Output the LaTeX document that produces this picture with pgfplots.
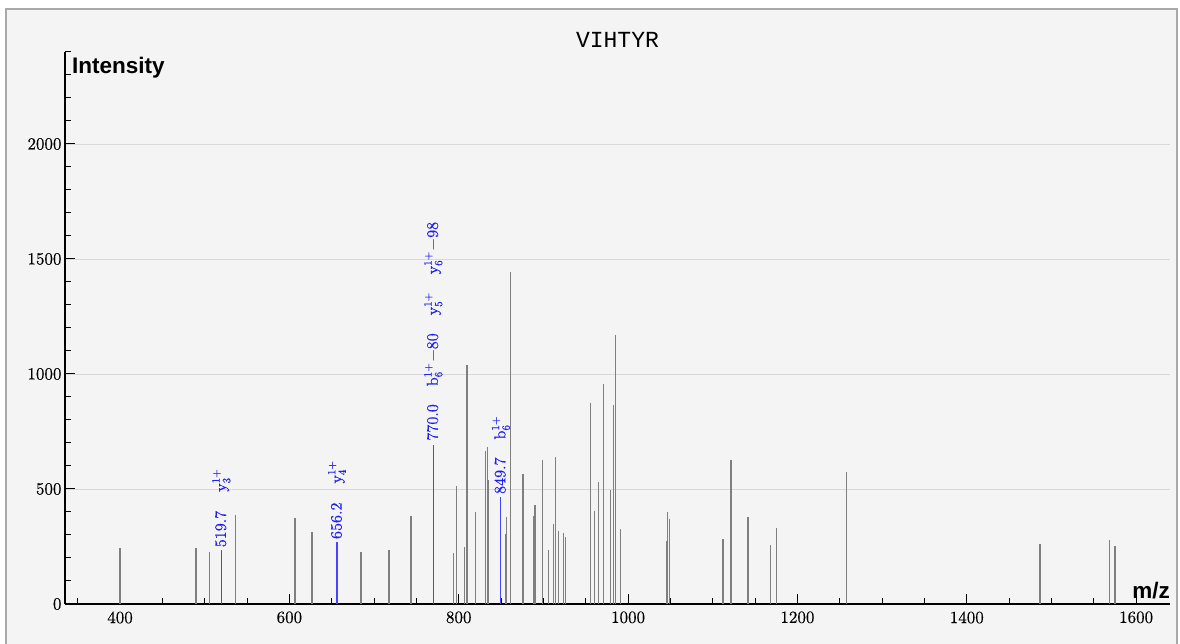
\documentclass[border=0pt]{standalone}
\usepackage{pgfplots}
\pgfplotsset{compat=1.18}
\usepackage{fontspec}
\newfontfamily\labelfont{Liberation Sans}
\newfontfamily\titlefont{Liberation Mono}
\newfontfamily\lmb{lmroman10-regular}[Extension=.otf, FakeBold=0.4]
\definecolor{bgc}{HTML}{F4F4F4}
\definecolor{framec}{HTML}{A9A9A9}
\definecolor{gridc}{HTML}{D9D9D9}
\definecolor{peakc}{HTML}{7F7F7F}
\definecolor{annc}{HTML}{2020F5}
\definecolor{annline}{HTML}{4545FF}
\newcommand\ssz{\fontsize{11}{12}\selectfont}
\newcommand\ion[3]{#1$_{\mbox{\lmb\ssz #2}}^{\mbox{\lmb\ssz #3}}$}

\pgfplotstableread{
mz    int
400.0  243
489.7  243
505.5  225
536.6  386
606.6  372
626.7  313
684.5  225
717.6  236
743.6  382
794.0  221
797.6  513
807.0  246
809.7  1040
820.0  399
831.8  665
833.7  684
835.3  539
855.0  304
856.5  380
861.5  1443
876.0  565
888.0  383
890.0  430
898.6  625
906.0  235
912.0  348
914.4  639
918.0  317
924.0  307
925.7  290
955.7  873
960.4  404
965.0  530
971.0  955
979.0  496
983.0  864
985.0  1170
991.0  325
1045.8 274
1046.5 399
1049.0 370
1112.0 283
1121.5 626
1141.5 380
1168.0 256
1175.6 329
1258.0 574
1486.5 260
1568.5 278
1575.0 253
}\peaks

\pgfplotstableread{
mz    int
519.7  235
656.2  271
770.0  692
849.7  467
}\annotated

\begin{document}
\begin{tikzpicture}
\useasboundingbox (-65pt,-40pt) rectangle (1115pt,604pt);
\fill[white] (-65pt,-40pt) rectangle (1115pt,604pt);
\filldraw[fill=bgc, draw=framec, line width=2.4pt] (-59pt,-80pt) rectangle (1112pt,595pt);
\begin{axis}[
  at={(0pt,0pt)}, anchor=south west,
  scale only axis, width=1105pt, height=552pt,
  xmin=335, xmax=1640, ymin=0, ymax=2400,
  axis lines*=left,
  axis line style={line width=1.2pt, black},
  tick align=inside,
  xtick={400,600,...,1600}, ytick={0,500,...,2000},
  minor xtick={350,400,...,1600}, minor ytick={0,100,...,2400},
  major tick length=10pt, minor tick length=6pt,
  tick style={black, line width=1pt},
  ymajorgrids, grid style={gridc, line width=0.9pt},
  tick label style={font=\lmb\fontsize{17}{18}\selectfont},
  /pgf/number format/assume math mode=true,
  xticklabel style={yshift=-4pt},
  /pgf/number format/1000 sep={},
  scaled ticks=false,
  clip=false,
]
\addplot[ycomb, peakc, line width=1.3pt, no markers] table[x=mz, y=int] {\peaks};
\addplot[ycomb, annline, line width=1.2pt, no markers] table[x=mz, y=int] {\annotated};

\begin{scope}[every node/.style={rotate=90, anchor=west, text=annc, inner sep=2.5pt, font=\lmb\fontsize{16}{18}\selectfont}]
\node at (axis cs:519.7,235) {519.7\hspace{19pt}\ion{y}{3}{1+}};
\node at (axis cs:656.2,271) {656.2\hspace{19pt}\ion{y}{4}{1+}};
\node[inner sep=4pt] at (axis cs:770.0,692) {770.0\hspace{18pt}\ion{b}{6}{1+}$-$80\hspace{18pt}\ion{y}{5}{1+}\hspace{18pt}\ion{y}{6}{1+}$-$98};
\node at (axis cs:849.7,467) {849.7\hspace{18pt}\ion{b}{6}{1+}};
\end{scope}

\node[anchor=north west, inner sep=0pt, font=\labelfont\bfseries\fontsize{22.5}{24}\selectfont] at (rel axis cs:0,1) [xshift=7pt, yshift=-5pt] {Intensity};
\node[anchor=base east, inner sep=0pt, font=\labelfont\bfseries\fontsize{22.5}{24}\selectfont] at (rel axis cs:1,0) [yshift=5pt] {m/z};
\node[anchor=base, inner sep=0pt, font=\titlefont\fontsize{23}{24}\selectfont] at (rel axis cs:0.5,1) [yshift=4pt] {VIHTYR};
\end{axis}
\end{tikzpicture}
\end{document}
